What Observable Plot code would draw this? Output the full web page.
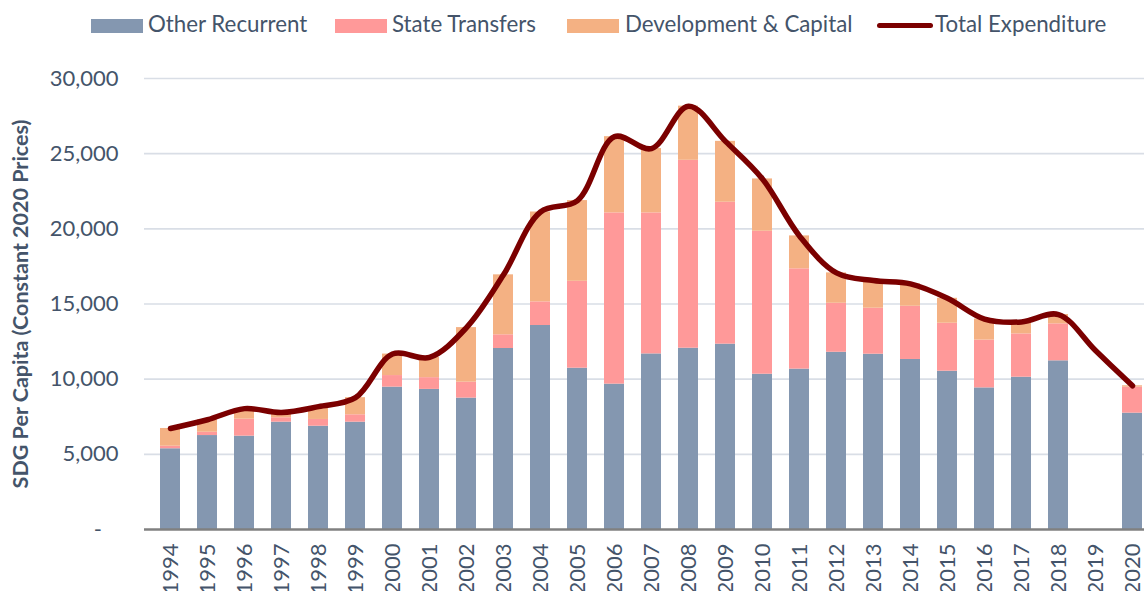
<!DOCTYPE html>
<html>
<head>
<meta charset="utf-8">
<script src="https://cdn.jsdelivr.net/npm/d3@7"></script>
<script src="https://cdn.jsdelivr.net/npm/@observablehq/plot@0.6"></script>
<style>
  html, body { margin: 0; padding: 0; background: #fff; overflow: hidden; width: 1144px; height: 591px; }
  #legend { position: relative; height: 50px; width: 1144px; font-family: Lato, "DejaVu Sans", sans-serif; font-size: 22.3px; color: #44546a; }
  #legend .sw { position: absolute; top: 19px; height: 13.5px; width: 52px; }
  #legend .ln { position: absolute; top: 23.2px; height: 5px; width: 56px; border-radius: 3px; }
  #legend .tx { position: absolute; top: 13px; line-height: 22px; white-space: nowrap; }
  #chart svg g[aria-label="y-axis label"] text { font-weight: 700; font-size: 21.5px; }
</style>
</head>
<body>
<div id="legend"></div>
<div id="chart"></div>
<script>
// ---- Data (SDG per capita, constant 2020 prices) ----
const years = ["1994","1995","1996","1997","1998","1999","2000","2001","2002","2003","2004","2005","2006","2007","2008","2009","2010","2011","2012","2013","2014","2015","2016","2017","2018","2019","2020"];
const otherRecurrent     = [5370, 6250, 6210, 7140, 6870, 7140, 9470, 9320, 8740, 12040, 13570, 10730, 9670, 11680, 12060, 12330, 10330, 10670, 11790, 11660, 11310, 10530, 9420, 10130, 11220, null, 7740];
const stateTransfers     = [170, 220, 1130, 290, 450, 490, 770, 780, 1060, 910, 1570, 5780, 11390, 9380, 12500, 9440, 9510, 6670, 3260, 3060, 3540, 3190, 3180, 2880, 2460, null, 1730];
const developmentCapital = [1180, 830, 700, 350, 850, 1140, 1430, 1350, 3630, 3990, 5980, 5370, 5070, 4280, 3600, 4050, 3480, 2190, 2020, 1840, 1490, 1660, 1400, 800, 620, null, 90];
const totalExpenditure   = [6720, 7300, 8040, 7780, 8170, 8770, 11670, 11450, 13430, 16940, 21120, 21880, 26130, 25340, 28160, 25820, 23320, 19530, 17070, 16560, 16340, 15380, 14000, 13810, 14300, 11900, 9560];

const seriesNames  = ["Other Recurrent", "State Transfers", "Development & Capital"];
const seriesColors = ["#8497b0", "#ff9999", "#f4b183"];
const lineName  = "Total Expenditure";
const lineColor = "#7b0000";
const yTicks = [0, 5000, 10000, 15000, 20000, 25000, 30000];
const yLabel = "SDG Per Capita (Constant 2020 Prices)";

// ---- Tables built from the arrays ----
const seriesValues = [otherRecurrent, stateTransfers, developmentCapital];
const barTable = years.flatMap((year, i) =>
  seriesNames.map((series, s) => ({year, series, value: seriesValues[s][i]}))
).filter(d => d.value != null);
const lineTable = years.map((year, i) => ({year, total: totalExpenditure[i]}));

// ---- Legend (HTML) ----
const legend = document.getElementById("legend");
const legendX = [91, 335, 567, 877];
const textX = [148, 392, 625, 935];
seriesNames.forEach((name, i) => {
  const sw = document.createElement("div");
  sw.className = "sw"; sw.style.left = legendX[i] + "px"; sw.style.background = seriesColors[i];
  legend.appendChild(sw);
  const tx = document.createElement("div");
  tx.className = "tx"; tx.style.left = textX[i] + "px"; tx.textContent = name;
  legend.appendChild(tx);
});
{
  const ln = document.createElement("div");
  ln.className = "ln"; ln.style.left = legendX[3] + "px"; ln.style.background = lineColor;
  legend.appendChild(ln);
  const tx = document.createElement("div");
  tx.className = "tx"; tx.style.left = textX[3] + "px"; tx.textContent = lineName;
  legend.appendChild(tx);
}

const fmt = d => d === 0 ? "-\u2002\u00a0" : d3.format(",")(d);

const chart = Plot.plot({
  width: 1144,
  height: 541,
  marginLeft: 144,
  marginRight: 0,
  marginTop: 28,
  marginBottom: 62,
  style: {fontFamily: "Lato, 'DejaVu Sans', sans-serif", fontSize: "22px", color: "#44546a", background: "white", overflow: "visible"},
  x: {type: "band", domain: years, range: [144.2, 1158.6], paddingInner: 0.45, paddingOuter: 0.225},
  y: {domain: [0, 30000]},
  color: {domain: seriesNames, range: seriesColors},
  marks: [
    Plot.gridY(yTicks.filter(v => v > 0), {stroke: "#d9dee6", strokeOpacity: 1, strokeWidth: 1.6}),
    Plot.barY(barTable, {x: "year", y: "value", fill: "series", order: seriesNames}),
    Plot.ruleY([0], {stroke: "#808080", strokeWidth: 2.5}),
    Plot.line(lineTable, {x: "year", y: "total", stroke: lineColor, strokeWidth: 5.5, curve: "catmull-rom", strokeLinecap: "round", strokeLinejoin: "round"}),
    Plot.axisY(yTicks, {tickSize: 0, tickPadding: 26, tickFormat: fmt, fill: "#44546a", label: yLabel, labelAnchor: "center", labelOffset: 132, labelArrow: "none"}),
    Plot.axisX({tickSize: 0, tickPadding: 14, tickRotate: -90, fill: "#44546a", label: null})
  ]
});
document.getElementById("chart").appendChild(chart);
</script>
</body>
</html>
